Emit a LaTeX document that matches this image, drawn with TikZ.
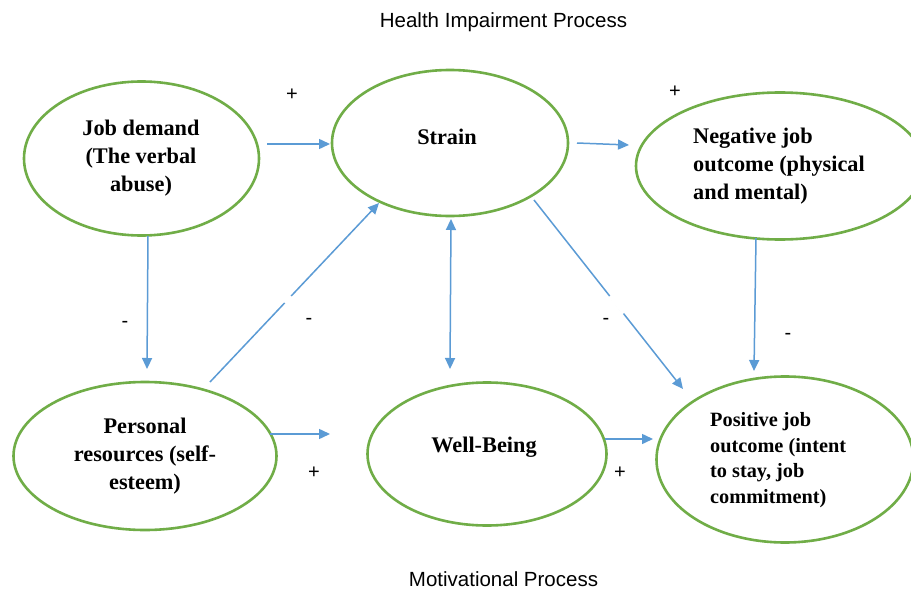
\documentclass[tikz,border=0pt]{standalone}
\usepackage{fontspec}
\setmainfont{Liberation Serif}
\setsansfont{Liberation Sans}
\usetikzlibrary{shapes.geometric,arrows.meta}
\definecolor{ringgreen}{HTML}{70AD47}
\definecolor{arrowblue}{HTML}{5B9BD5}
\tikzset{
  ring/.style={draw=ringgreen,line width=2.6pt,ellipse,inner sep=0pt,minimum width=#1},
  arrowline/.style={draw=arrowblue,line width=1.5pt,-{Stealth[length=11pt,width=10pt,inset=0pt]}},
  boldlabel/.style={font=\fontsize{22.3}{28}\selectfont\bfseries,align=#1,inner sep=0pt},
  sign/.style={font=\sffamily\fontsize{20}{22}\selectfont,inner sep=0pt},
  heading/.style={font=\sffamily\fontsize{20.5}{24}\selectfont,inner sep=0pt}
}
\begin{document}
\begin{tikzpicture}[x=1pt,y=-1pt]
\useasboundingbox (0,0) rectangle (911,589);
\fill[white] (0,0) rectangle (911,589);
\node[ring=235pt,minimum height=154pt] (demand) at (141.5,158.5) {};
\node[ring=236pt,minimum height=146pt] (strain) at (450,143) {};
\node[ring=288pt,minimum height=147pt] (neg) at (780,166) {};
\node[ring=263pt,minimum height=148pt] (res) at (145,456) {};
\node[ring=239pt,minimum height=143pt] (well) at (487,454) {};
\node[ring=257pt,minimum height=166pt] (pos) at (785,459.5) {};
\node[boldlabel=center] (tdemand) at (141,158) {Job demand\\(The verbal\\abuse)};
\node[boldlabel=center] (tstrain) at (447,137) {Strain};
\node[boldlabel=left,anchor=west] (tneg) at (693,166) {Negative job\\outcome (physical\\and mental)};
\node[boldlabel=center] (tres) at (145,456) {Personal\\resources (self-\\esteem)};
\node[boldlabel=center] (twell) at (484,447) {Well-Being};
\node[boldlabel=left,anchor=west,font=\fontsize{20.3}{25.7}\selectfont\bfseries] (tpos) at (710,460) {Positive job\\outcome (intent\\to stay, job\\commitment)};
\node[heading] (h1) at (503.5,22) {Health Impairment Process};
\node[heading] (h2) at (503.5,579.5) {Motivational Process};
\coordinate (a1s) at (267,144); \coordinate (a1e) at (330,144);
\coordinate (a2s) at (577,143); \coordinate (a2e) at (629,145);
\coordinate (a3s) at (148,236); \coordinate (a3e) at (147,369);
\coordinate (a4s) at (210,382); \coordinate (a4e) at (379,203);
\coordinate (a5s) at (451,219); \coordinate (a5e) at (450,369);
\coordinate (a6s) at (534,200); \coordinate (a6e) at (683,389);
\coordinate (a7s) at (756,238); \coordinate (a7e) at (754,371);
\coordinate (a8s) at (270,434); \coordinate (a8e) at (330,434);
\coordinate (a9s) at (605,439); \coordinate (a9e) at (653,439);
\draw[arrowline] (a1s) -- (a1e);
\draw[arrowline] (a2s) -- (a2e);
\draw[arrowline] (a3s) -- (a3e);
\draw[arrowline] (a4s) -- (a4e);
\draw[arrowline,{Stealth[length=11pt,width=10pt,inset=0pt]}-{Stealth[length=11pt,width=10pt,inset=0pt]}] (a5s) -- (a5e);
\draw[arrowline] (a6s) -- (a6e);
\draw[arrowline] (a7s) -- (a7e);
\draw[arrowline] (a8s) -- (a8e);
\draw[arrowline] (a9s) -- (a9e);
\draw[white,line width=4pt] (285,303) -- (291,296);
\draw[white,line width=4pt] (610,296) -- (624,313);
\node[sign] (p1) at (292,94.5) {+};
\node[sign] (p2) at (675,91.5) {+};
\node[sign] (p3) at (314,472.5) {+};
\node[sign] (p4) at (620,472.5) {+};
\node[sign] (m1) at (125,324.5) {-};
\node[sign] (m2) at (309,321.5) {-};
\node[sign] (m3) at (606,321.5) {-};
\node[sign] (m4) at (788,336.5) {-};
\end{tikzpicture}
\end{document}
